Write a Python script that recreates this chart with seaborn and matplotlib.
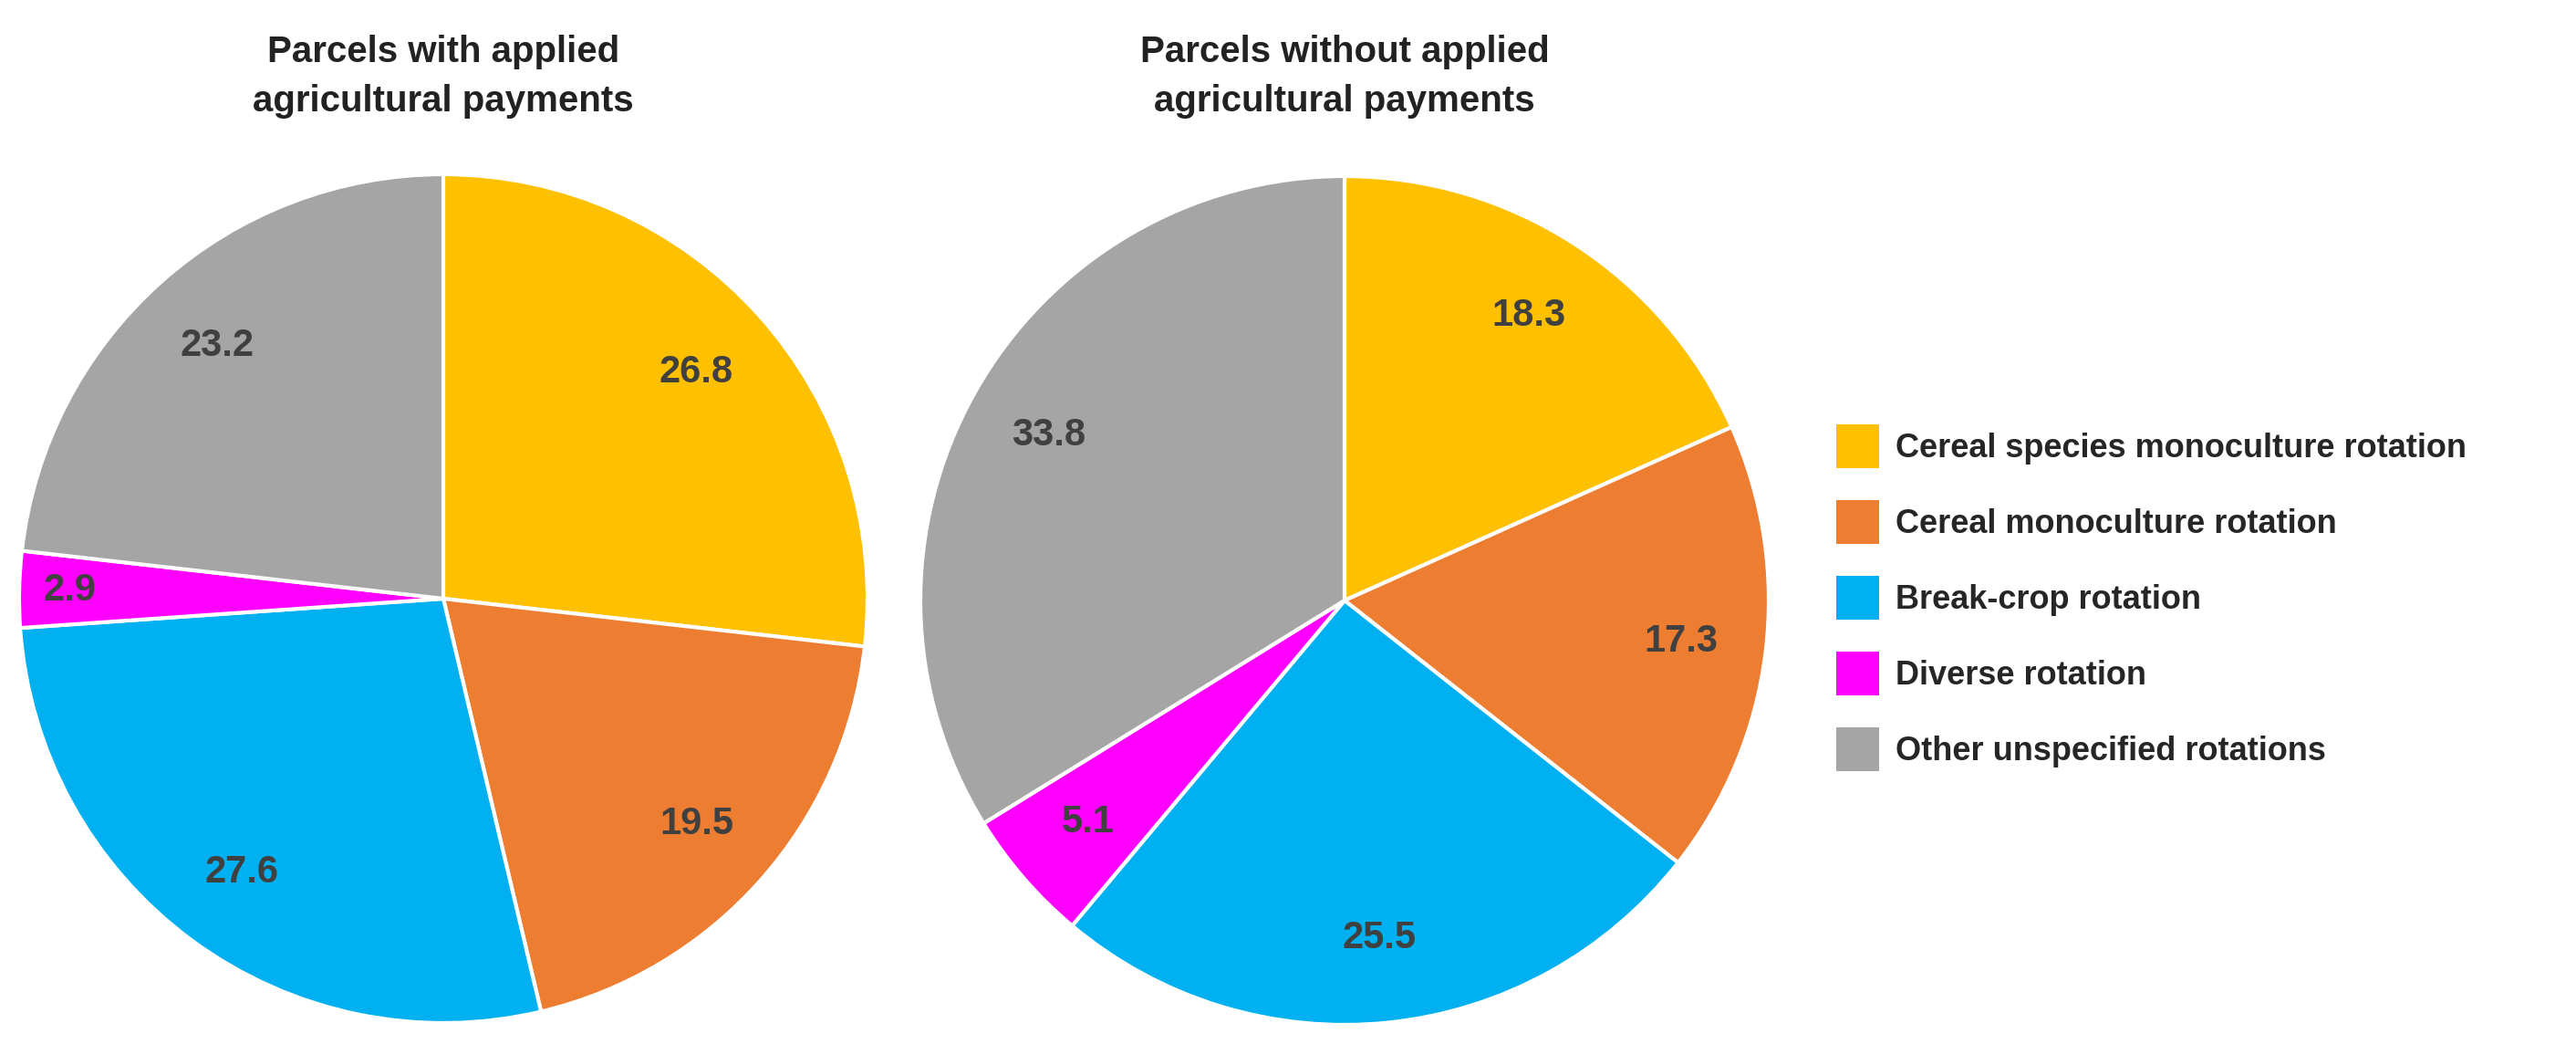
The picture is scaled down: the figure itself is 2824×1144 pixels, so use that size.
import matplotlib
matplotlib.use("Agg")
import matplotlib.pyplot as plt
import seaborn as sns
import numpy as np
from matplotlib.patches import Patch

sns.set_theme(style="white")
plt.rcParams['font.family'] = ['Liberation Sans', 'DejaVu Sans']

categories = ["Cereal species monoculture rotation", "Cereal monoculture rotation",
              "Break-crop rotation", "Diverse rotation", "Other unspecified rotations"]
with_payments = [26.8, 19.5, 27.6, 2.9, 23.2]
without_payments = [18.3, 17.3, 25.5, 5.1, 33.8]
titles = ["Parcels with applied\nagricultural payments",
          "Parcels without applied\nagricultural payments"]
colors = ["#FFC000", "#ED7D31", "#00B0F0", "#FF00FF", "#A5A5A5"]

W, H = 2824, 1144
fig = plt.figure(figsize=(W / 100, H / 100), dpi=100)
R = 465
centers = [(486, 656), (1474, 658)]  # pixel centres, y from top

for (cx, cy), vals, title in zip(centers, [with_payments, without_payments], titles):
    ax = fig.add_axes([(cx - R) / W, (H - cy - R) / H, 2 * R / W, 2 * R / H])
    ax.pie(vals, colors=colors, startangle=90, counterclock=False,
           wedgeprops=dict(edgecolor="white", linewidth=3))
    ax.set_xlim(-1, 1)
    ax.set_ylim(-1, 1)
    total = sum(vals)
    cum = 0
    for v in vals:
        ang = np.deg2rad(90 - (cum + v / 2) / total * 360)
        r = 0.8 if v > 4 else 0.88
        ax.text(r * np.cos(ang), r * np.sin(ang), f"{v}", ha="center", va="center",
                fontsize=30, fontweight="bold", color="#404040")
        cum += v
    fig.text(cx / W, 1 - 84 / H, title, ha="center", va="center", fontsize=29,
             fontweight="bold", color="#222222", linespacing=1.5)

handles = [Patch(facecolor=c, edgecolor="none") for c in colors]
fig.legend(handles, categories, loc="center left", bbox_to_anchor=(1995 / W, 1 - 655 / H),
           frameon=False, handlelength=1.3, handleheight=1.7,
           labelspacing=0.95, handletextpad=0.5, borderpad=0,
           prop=dict(weight="bold", size=26))

fig.savefig("out.png", dpi=100)
